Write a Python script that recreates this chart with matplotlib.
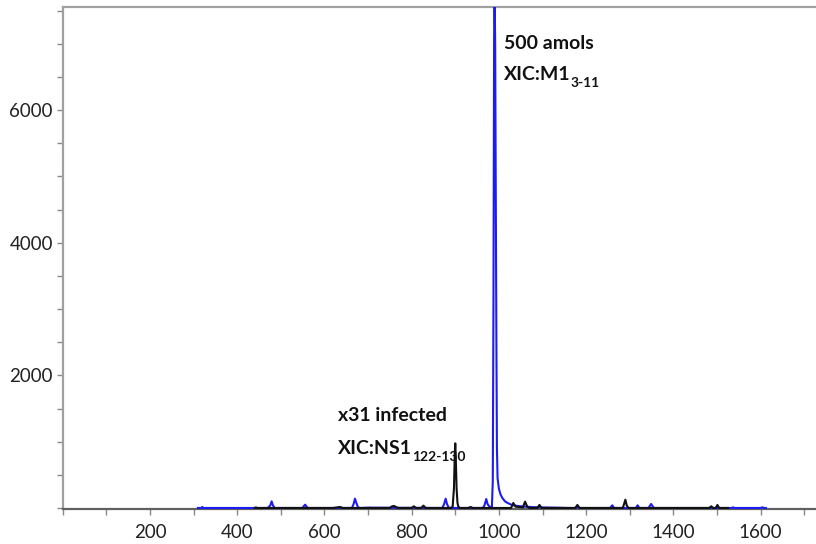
import matplotlib
matplotlib.use("Agg")
import matplotlib.pyplot as plt
from matplotlib.ticker import MultipleLocator, FixedLocator

# ---- data ----
blue_x = [310, 318, 320, 322, 470, 476, 479, 482, 486, 550, 553, 556, 559, 562,
          663, 667, 670, 673, 677, 682, 700, 870, 874, 878, 881, 885, 890,
          963, 967, 971, 974, 978, 982, 984, 986, 987.5, 989, 990, 991.5, 993,
          994.5, 995.5, 997, 1000, 1004, 1008, 1014, 1020, 1030, 1043, 1060,
          1080, 1100, 1130, 1160, 1176, 1180, 1184, 1255, 1260, 1264, 1314,
          1318, 1322, 1343, 1349, 1355, 1534, 1537, 1540, 1600, 1604, 1608, 1612]
blue_y = [0, 0, 15, 0, 0, 40, 100, 40, 0, 0, 30, 50, 20, 0,
          0, 60, 140, 80, 10, 0, 5, 0, 50, 140, 60, 5, 0,
          0, 40, 135, 60, 20, 15, 20, 400, 3000, 7000, 7900, 7000, 4500,
          2200, 900, 450, 290, 200, 150, 100, 75, 45, 30, 20,
          12, 8, 5, 0, 0, 15, 0, 0, 40, 0, 0,
          40, 0, 0, 60, 0, 0, 10, 0, 0, 10, 0, 0]

black_x = [440, 443, 446, 620, 630, 636, 642, 750, 755, 760, 765, 770, 800, 805,
           810, 822, 827, 832, 890, 894, 897, 899, 900, 901, 903, 905, 907, 910,
           930, 935, 940, 1028, 1033, 1038, 1055, 1060, 1065, 1070, 1088, 1093,
           1098, 1175, 1180, 1185, 1284, 1287, 1290, 1293, 1297, 1482, 1487,
           1491, 1497, 1501, 1505, 1525]
black_y = [0, 8, 0, 0, 10, 15, 0, 0, 25, 30, 10, 0, 0, 25,
           0, 0, 35, 0, 0, 20, 300, 850, 975, 800, 300, 80, 20, 0,
           0, 15, 0, 0, 75, 20, 10, 95, 20, 0, 0, 45,
           0, 0, 45, 0, 0, 60, 125, 40, 0, 0, 25,
           0, 0, 45, 0, 0]

x_major = [200, 400, 600, 800, 1000, 1200, 1400, 1600]
y_major = [2000, 4000, 6000]

label_blue = ("500 amols", "XIC:M1", "3-11")
label_black = ("x31 infected", "XIC:NS1", "122-130")

# ---- figure ----
W, H = 816, 544
fig = plt.figure(figsize=(W / 100, H / 100), dpi=100)
left, right = 62.7 / W, 1.0
bottom, top = (H - 508.5) / H, (H - 6.7) / H
ax = fig.add_axes([left, bottom, right - left, top - bottom])

blue = "#1c1cf0"
ax.plot(blue_x, blue_y, color=blue, lw=1.5, zorder=3)
ax.plot(black_x, black_y, color="#111111", lw=1.5, zorder=4)

ax.set_xlim(0, 1727)
ax.set_ylim(-8, 7560)

ax.xaxis.set_major_locator(FixedLocator(x_major))
ax.xaxis.set_minor_locator(MultipleLocator(100))
ax.yaxis.set_major_locator(FixedLocator(y_major))
ax.yaxis.set_minor_locator(MultipleLocator(500))

tick_font = dict(family="Lato", size=13.5)
ax.set_xticklabels([str(v) for v in x_major], **tick_font)
ax.set_yticklabels([str(v) for v in y_major], **tick_font)

ax.tick_params(axis="both", which="both", direction="out", colors="#888888",
               labelcolor="#222222")
ax.tick_params(axis="x", which="both", length=4, width=1, pad=7)
ax.tick_params(axis="y", which="both", length=4, width=1, pad=3)

ax.spines["right"].set_visible(False)
ax.spines["left"].set_color("#a0a0a0")
ax.spines["left"].set_linewidth(1.6)
ax.spines["top"].set_color("#a0a0a0")
ax.spines["top"].set_linewidth(1.6)
ax.spines["bottom"].set_color("#606060")
ax.spines["bottom"].set_linewidth(1.6)

txt = dict(family="Lato", weight="bold", size=14, color="#111111")
sub = dict(family="Lato", weight="bold", size=10, color="#111111")

# blue annotation
t1 = ax.text(1012, 7000, label_blue[0], ha="left", va="center", **txt)
t2 = ax.text(1012, 6530, label_blue[1], ha="left", va="center", **txt)
ax.annotate(label_blue[2], xy=(1.0, 0.0), xycoords=t2, ha="left", va="center", **sub)

# black annotation
t3 = ax.text(632, 1390, label_black[0], ha="left", va="center", **txt)
t4 = ax.text(632, 890, label_black[1], ha="left", va="center", **txt)
ax.annotate(label_black[2], xy=(1.0, 0.0), xycoords=t4, ha="left", va="center", **sub)

fig.savefig("out.png", dpi=100)
